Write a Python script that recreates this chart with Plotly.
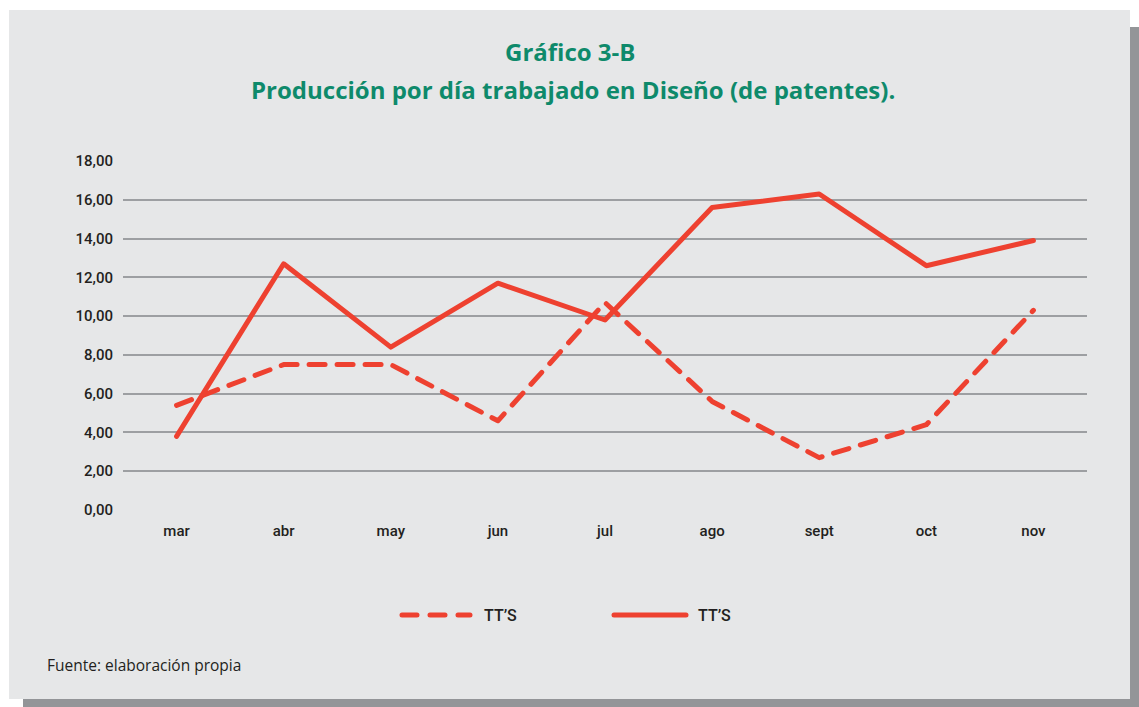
import plotly.graph_objects as go

months = ["mar", "abr", "may", "jun", "jul", "ago", "sept", "oct", "nov"]
tts_dashed = [5.4, 7.5, 7.5, 4.6, 10.7, 5.6, 2.7, 4.4, 10.3]
tts_solid = [3.8, 12.7, 8.4, 11.7, 9.8, 15.6, 16.3, 12.6, 13.9]
series_names = ["TT\u2019S", "TT\u2019S"]
y_ticks = [0, 2, 4, 6, 8, 10, 12, 14, 16, 18]
y_tick_labels = ["0,00", "2,00", "4,00", "6,00", "8,00", "10,00", "12,00", "14,00", "16,00", "18,00"]

RED = "#EE4130"
GREEN = "#0E8A6B"
PANEL = "#E6E7E8"
SHADOW = "#939598"
TXT = "#231F20"
AXFONT = "Roboto, sans-serif"

W, H = 1139, 707
L, R, T, B = 123, 1087, 161, 510


def px(x):
    return (x - L) / (R - L)


def py(y):
    return (B - y) / (B - T)


fig = go.Figure()
fig.add_trace(go.Scatter(x=months, y=tts_dashed, mode="lines", name=series_names[0],
                         line=dict(color=RED, width=5, dash="16px,12px"), showlegend=False,
                         cliponaxis=False))
fig.add_trace(go.Scatter(x=months, y=tts_solid, mode="lines", name=series_names[1],
                         line=dict(color=RED, width=5), showlegend=False, cliponaxis=False))

shapes = [
    dict(type="rect", xref="paper", yref="paper", x0=px(23), x1=px(1139), y0=py(707), y1=py(27),
         fillcolor=SHADOW, line=dict(width=0), layer="below"),
    dict(type="rect", xref="paper", yref="paper", x0=px(9), x1=px(1130), y0=py(699), y1=py(10),
         fillcolor=PANEL, line=dict(width=0), layer="below"),
    # legend samples
    dict(type="line", xref="paper", yref="paper", x0=px(402), x1=px(470), y0=py(615), y1=py(615),
         line=dict(color=RED, width=5, dash="15px,13px")),
    dict(type="line", xref="paper", yref="paper", x0=px(614), x1=px(686), y0=py(615), y1=py(615),
         line=dict(color=RED, width=5)),
]

annotations = [
    dict(text="<b>Gráfico 3-B</b>", xref="paper", yref="paper", x=px(570), y=py(52),
         showarrow=False, xanchor="center", yanchor="middle",
         font=dict(family="Open Sans, sans-serif", size=24, color=GREEN)),
    dict(text="<b>Producción por día trabajado en Diseño (de patentes).</b>", xref="paper", yref="paper",
         x=px(573), y=py(90), showarrow=False, xanchor="center", yanchor="middle",
         font=dict(family="Open Sans, sans-serif", size=24, color=GREEN)),
    dict(text=series_names[0], xref="paper", yref="paper", x=px(482), y=py(615), showarrow=False,
         xanchor="left", yanchor="middle", font=dict(family=AXFONT, size=16, color=TXT, weight=500)),
    dict(text=series_names[1], xref="paper", yref="paper", x=px(696), y=py(615), showarrow=False,
         xanchor="left", yanchor="middle", font=dict(family=AXFONT, size=16, color=TXT, weight=500)),
    dict(text="Fuente: elaboración propia", xref="paper", yref="paper", x=px(45), y=py(665),
         showarrow=False, xanchor="left", yanchor="middle",
         font=dict(family="Open Sans, sans-serif", size=15.5, color=TXT)),
]

fig.update_layout(
    width=W, height=H,
    margin=dict(l=L, r=W - R, t=T, b=H - B, pad=0),
    paper_bgcolor="white",
    plot_bgcolor="rgba(0,0,0,0)",
    shapes=shapes,
    annotations=annotations,
    showlegend=False,
)
fig.update_xaxes(range=[-0.5, len(months) - 0.5], showgrid=False, showline=False, zeroline=False,
                 ticks="", tickfont=dict(family=AXFONT, size=15, color=TXT, weight=500),
                 ticklabelstandoff=10, fixedrange=True)
fig.update_yaxes(range=[0, 18], tickvals=y_ticks, ticktext=y_tick_labels,
                 showgrid=True, gridcolor="#9D9FA2", gridwidth=1.5, zeroline=False,
                 showline=False, ticks="",
                 tickfont=dict(family=AXFONT, size=15, color=TXT, weight=500), ticklabelstandoff=9,
                 fixedrange=True)

post = (
    "document.body.style.margin='0';"
    "document.querySelectorAll('.js-line, .shapelayer path').forEach(function(p){"
    "p.style.strokeLinecap='round';p.style.strokeLinejoin='round';});"
)
fig.write_html("out.html", config={"displayModeBar": False}, post_script=post)
